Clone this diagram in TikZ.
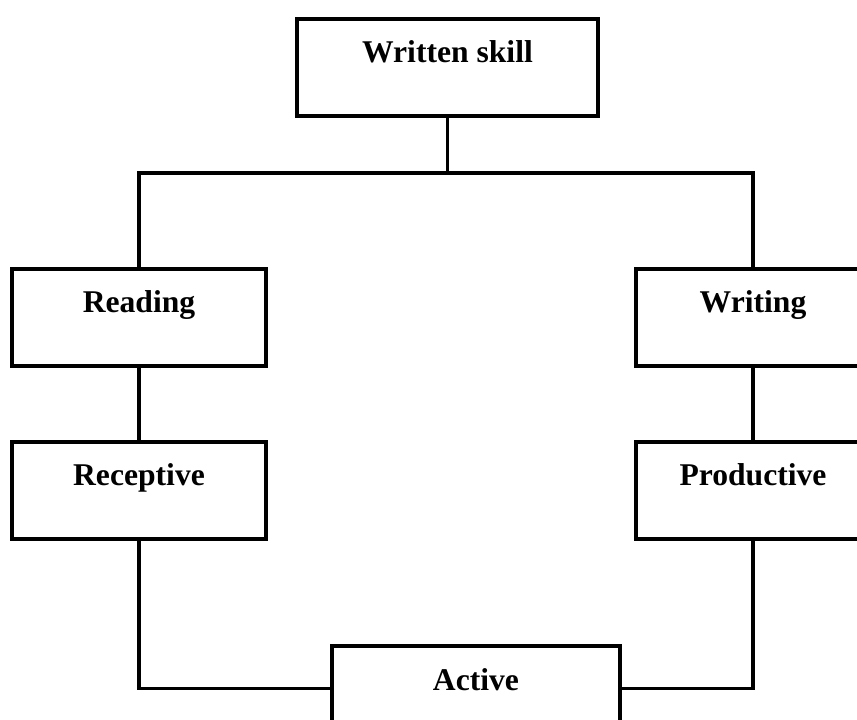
\documentclass[tikz,border=0pt]{standalone}
\usepackage{fontspec}
\setmainfont{Liberation Serif}
\usepackage{tikz}

\begin{document}
\begin{tikzpicture}[main_node/.style={rectangle,draw,line width=1.8pt,inner sep=0pt,text height=0.88cm,text depth=1.06cm,anchor=base,font=\fontsize{18}{20}\selectfont\bfseries}, link/.style={line width=1.8pt}]
	\useasboundingbox (0,0) rectangle (17.14,14.4);
	\node[main_node,minimum width=6.02cm] (1) at (8.95,13.14) {Written skill};
    \node[main_node,minimum width=5.08cm] (2) at (2.78,8.14) {Reading};
    \node[main_node,minimum width=4.68cm] (3) at (15.06,8.14) {Writing};
    \node[main_node,minimum width=5.08cm] (4) at (2.78,4.68) {Receptive};
    \node[main_node,minimum width=4.68cm] (5) at (15.06,4.68) {Productive};
    \node[main_node,minimum width=5.76cm,text height=0.9cm,text depth=0.8cm] (6) at (9.52,0.58) {Active};
    \coordinate (split) at (8.95,10.94);
    \draw[link] (1) -- (split);
    \draw[link] (2) |- (split) -| (3);
    \draw[link] (2) -- (4);
    \draw[link] (3) -- (5);
    \draw[link] (4) |- (6);
    \draw[link] (5) |- (6);
\end{tikzpicture}
\end{document}
